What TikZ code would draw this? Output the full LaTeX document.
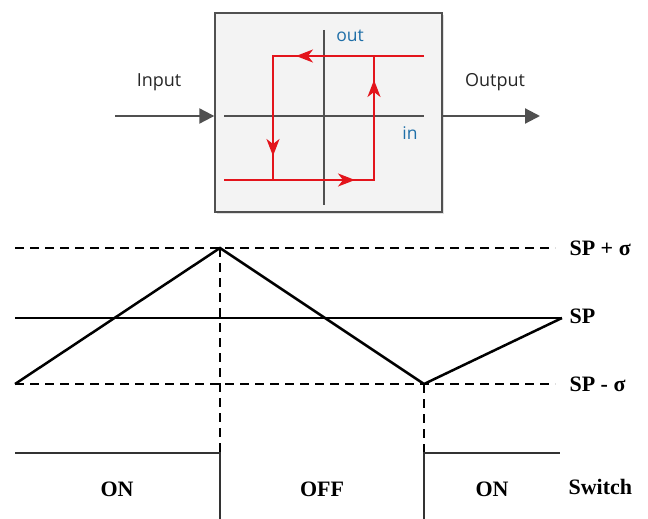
\documentclass[tikz,border=0pt]{standalone}
\usepackage{fontspec}
\setmainfont{Liberation Serif}
\newfontfamily\uisans{Open Sans}
\usetikzlibrary{arrows.meta,shadows}

\definecolor{axisgray}{HTML}{505050}
\definecolor{loopred}{HTML}{E3141B}
\definecolor{labelblue}{HTML}{1F6FA8}
\definecolor{boxfill}{HTML}{F3F3F3}

\tikzset{
  blockbox/.style={draw=axisgray, line width=1.4pt, fill=boxfill,
    minimum width=227pt, minimum height=199pt, inner sep=0pt,
    drop shadow={opacity=0.25, shadow xshift=2pt, shadow yshift=-2pt}},
  iolabel/.style={font=\uisans\fontsize{18}{20}\selectfont, text=black!85},
  axislabel/.style={font=\uisans\fontsize{17.5}{20}\selectfont, text=labelblue},
  signal/.style={-{Triangle[length=15pt,width=15pt]}, line width=2.2pt, draw=axisgray, fill=axisgray},
  axisline/.style={draw=axisgray, line width=1.7pt},
  loopline/.style={draw=loopred, line width=2pt},
  looptip/.style={loopline, -{Stealth[length=17pt,width=13pt,inset=5pt]}, fill=loopred},
  levelline/.style={line width=1.2pt, dash pattern=on 9pt off 6pt},
  rampline/.style={line width=2.5pt, line join=miter},
  switchline/.style={line width=1.6pt, draw=black!80},
  plotlabel/.style={font=\bfseries\fontsize{22}{24}\selectfont},
  sidelabel/.style={plotlabel, anchor=west}
}

\begin{document}
\begin{tikzpicture}[x=1pt,y=-1pt]
\useasboundingbox (0,0) rectangle (648,519);

% ---- hysteresis block ----
\node[blockbox] (block) at (328.5,112.5) {};

\coordinate (vtop) at (324,30);
\coordinate (vbot) at (324,205);
\coordinate (hleft) at (224,116);
\coordinate (hright) at (424,116);
\draw[axisline] (vtop) -- (vbot);
\draw[axisline] (hleft) -- (hright);

\node[axislabel] (outlbl) at (350,36) {out};
\node[axislabel] (inlbl) at (410,133) {in};

% relay loop
\coordinate (topR) at (424,56);
\coordinate (cUL) at (273,56);
\coordinate (cUR) at (374,56);
\coordinate (botL) at (224,180);
\coordinate (cLL) at (273,180);
\coordinate (cLR) at (374,180);
\draw[loopline] (topR) -- (cUL) -- (cLL);
\draw[loopline] (botL) -- (cLR) -- (cUR);
\draw[looptip] (cUR) -- (296,56);
\draw[looptip] (cUL) -- (273,156);
\draw[looptip] (cLL) -- (355,180);
\draw[looptip] (cLR) -- (374,80);

% input / output
\coordinate (inStart) at (115,116);
\coordinate (outEnd) at (540,116);
\draw[signal] (inStart) -- (block.west |- inStart);
\draw[signal] (block.east |- outEnd) -- (outEnd);
\node[iolabel] (inputlbl) at (159,82) {Input};
\node[iolabel] (outputlbl) at (495,82) {Output};

% ---- setpoint levels ----
\coordinate (hiL) at (15,248);
\coordinate (hiR) at (555,248);
\coordinate (spL) at (15,318);
\coordinate (spR) at (562,318);
\coordinate (loL) at (15,384);
\coordinate (loR) at (555,384);
\draw[levelline] (hiL) -- (hiR);
\draw[line width=1.2pt] (spL) -- (spR);
\draw[levelline] (loL) -- (loR);

\node[sidelabel] (hilbl) at (566,248) {SP + σ};
\node[sidelabel] (splbl) at (566,316) {SP};
\node[sidelabel] (lolbl) at (566,384) {SP - σ};

% process value ramp
\coordinate (peak) at (220,248);
\coordinate (trough) at (424,384);
\draw[rampline] (loL) -- (peak) -- (trough) -- (spR);

% switching instants
\coordinate (swA) at (220,453);
\coordinate (swB) at (424,453);
\draw[levelline] (peak) -- (swA);
\draw[levelline] (trough) -- (swB);

% ---- switch state ----
\coordinate (onL) at (15,453);
\coordinate (aBot) at (220,519);
\coordinate (bBot) at (424,519);
\coordinate (onR) at (560,453);
\draw[switchline] (onL) -- (swA) -- (aBot);
\draw[switchline] (bBot) -- (swB) -- (onR);

\node[plotlabel] (on1) at (117,489) {ON};
\node[plotlabel] (off) at (322,489) {OFF};
\node[plotlabel] (on2) at (492,489) {ON};
\node[sidelabel] (swlbl) at (565,487) {Switch};
\end{tikzpicture}
\end{document}
